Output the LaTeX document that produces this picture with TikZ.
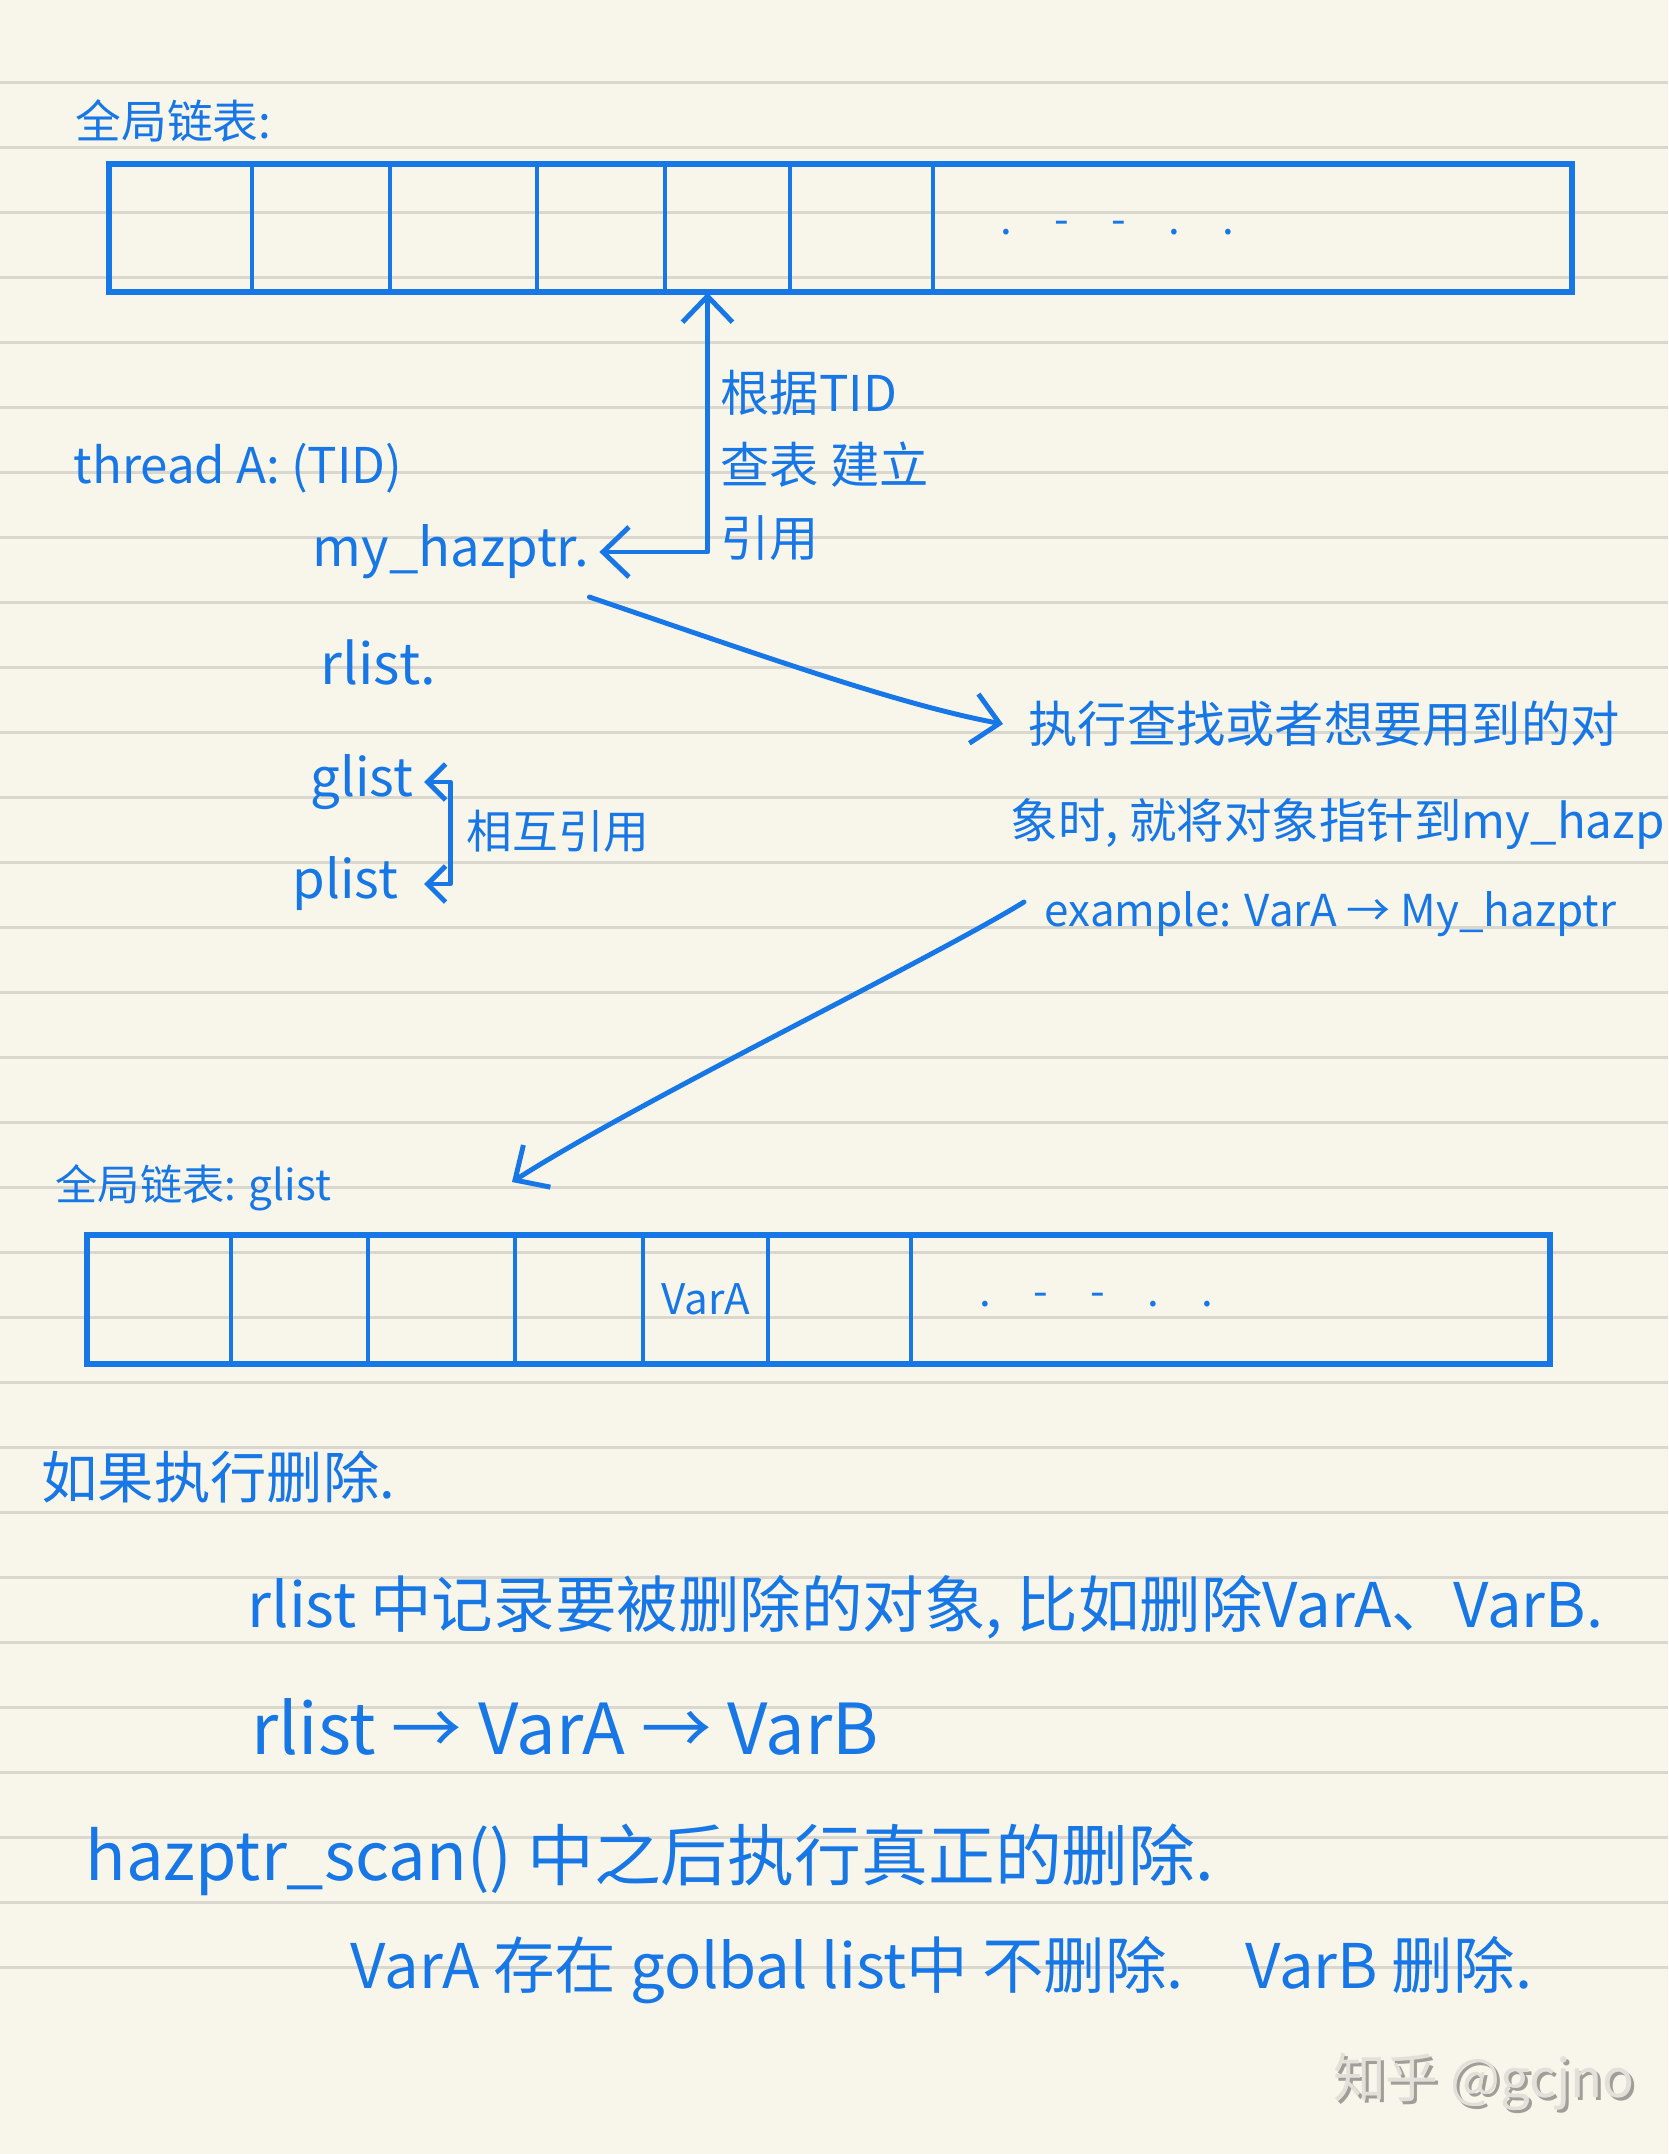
\documentclass[tikz,border=0pt]{standalone}
\usepackage{fontspec}
\usepackage{xcolor}
\usetikzlibrary{arrows.meta}
\newfontfamily\cjk{Noto Sans CJK SC}
\definecolor{paper}{RGB}{248,246,235}
\definecolor{ruling}{RGB}{218,215,206}
\definecolor{inkblue}{RGB}{24,119,230}
\definecolor{wmlight}{RGB}{226,224,217}
\definecolor{wmdark}{RGB}{160,158,152}

\tikzset{
  ink/.style={draw=inkblue, line width=1.4pt, line cap=round, line join=round},
  cell/.style={draw=inkblue, line width=0.9pt, inner sep=0pt},
  frame/.style={draw=inkblue, line width=1.6pt},
  note/.style={text=inkblue, inner sep=0pt, anchor=west, font=\cjk\fontsize{#1}{#1}\selectfont},
  note/.default=15,
  >={Straight Barb[length=2.6mm,width=5mm]}
}

\begin{document}
\begin{tikzpicture}[x=0.01cm, y=-0.01cm]
  \useasboundingbox (0,0) rectangle (1668,2154);
  \fill[paper] (0,0) rectangle (1668,2154);
  \foreach \k in {-2,...,27}
    \draw[ruling, line width=0.9pt] (0,{212.7+65*\k}) -- (1668,{212.7+65*\k});

  % hazard pointer table
  \node[note=13] (ttitle) at (75,121) {全局链表:};
  \foreach \i/\a/\b in {1/110/252,2/252/390,3/390/537,4/537/665,5/665/790,6/790/933,7/933/1570}{
    \pgfmathsetmacro\w{(\b-\a)/100}
    \node[cell, minimum width=\w cm, minimum height=1.26cm] (t\i) at ({(\a+\b)/2},228) {};
  }
  \draw[frame] (t1.north west) rectangle (t7.south east);
  \node[note=12] (tdots) at (1000,228) {.\quad -\quad -\quad .\quad .};

  % thread A
  \node[note=14] (thread) at (73,468) {thread A: (TID)};
  \node[note=15] (myhaz) at (312,552) {my\_hazptr.};
  \node[note=16] (rlist) at (320,662) {rlist.};
  \node[note=15] (glist) at (310,782) {glist};
  \node[note=15] (plist) at (292,884) {plist};
  \node[note=13] (mutual) at (466,831) {相互引用};
  \node[note, align=left, font=\cjk\fontsize{14}{20.6}\selectfont] (tidnote) at (720,465)
    {根据TID\\查表 建立\\引用};

  \draw[ink,<->] ([xshift=0.1cm]myhaz.east) -| ([xshift=-0.2cm]t5.south);
  \draw[ink,<->,>={Straight Barb[length=1.8mm,width=3.6mm]}]
    ([xshift=0.1cm]glist.east) -- ++(26,0) |- ([xshift=0.25cm]plist.east);

  % note on the right
  \node[note=14] (note1) at (1028,724) {执行查找或者想要用到的对};
  \node[note=13.5] (note2) at (1010,824) {象时, 就将对象指针到my\_hazp};
  \node[note=12.5] (note3) at (1044,914) {example: VarA → My\_hazptr};
  \draw[ink,->] ([yshift=-0.45cm]myhaz.east) .. controls (760,655) and (900,705) .. ([xshift=-0.25cm]note1.west);

  % global list
  \node[note=12] (gtitle) at (55,1188) {全局链表: glist};
  \coordinate (gin) at (512,1182);
  \draw[ink,->] ([xshift=-0.2cm,yshift=0.12cm]note3.west) .. controls (930,960) and (640,1100) .. (gin);
  \foreach \i/\a/\b in {1/88/231,2/231/368,3/368/515,4/515/643,5/643/768,6/768/911,7/911/1548}{
    \pgfmathsetmacro\w{(\b-\a)/100}
    \node[cell, minimum width=\w cm, minimum height=1.27cm] (g\i) at ({(\a+\b)/2},1299.5) {};
  }
  \draw[frame] (g1.north west) rectangle (g7.south east);
  \node[note=12, anchor=center] (vara) at (g5) {VarA};
  \node[note=12] (gdots) at (979,1300) {.\quad -\quad -\quad .\quad .};

  % deletion
  \node[note=16] (delhead) at (41,1477) {如果执行删除.};
  \node[note=17.5] (del1) at (247,1607) {rlist 中记录要被删除的对象, 比如删除VarA、VarB.};
  \node[note=20] (del2) at (251,1727) {rlist → VarA → VarB};
  \node[note=19] (scan) at (85,1860) {hazptr\_scan() 中之后执行真正的删除.};
  \node[note=17.5] (result) at (350,1970) {VarA 存在 golbal list中 不删除.\quad VarB 删除.};

  \node[text=wmdark, font=\cjk\fontsize{15}{15}\selectfont] at (1487,2085) {知乎 @gcjno};
  \node[text=wmlight, font=\cjk\fontsize{15}{15}\selectfont] (wm) at (1484,2082) {知乎 @gcjno};
\end{tikzpicture}
\end{document}
